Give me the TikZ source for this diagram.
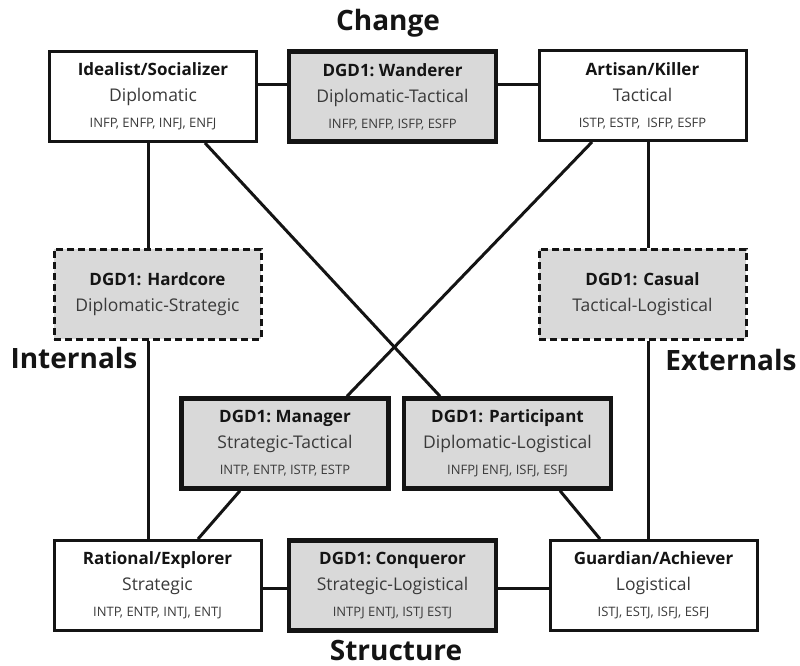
\documentclass[tikz,border=0pt]{standalone}
\usepackage{fontspec}
\setmainfont{Open Sans}
\usetikzlibrary{calc}
\definecolor{boxgray}{HTML}{D9D9D9}
\definecolor{txtgray}{HTML}{3A3A3A}
\definecolor{ink}{HTML}{141414}
\tikzset{
  basebox/.style={rectangle, minimum width=207pt, minimum height=90pt,
    align=center, inner sep=0pt, text=ink,
    font=\fontsize{17.5}{26}\selectfont},
  plainbox/.style={basebox, draw=ink, line width=3pt, fill=white},
  greybox/.style={basebox, draw=ink, line width=4.5pt, fill=boxgray},
  dashbox/.style={basebox, draw=ink, line width=3pt, fill=boxgray,
    dash pattern=on 7pt off 4pt},
  conn/.style={draw=ink, line width=3pt},
  axislabel/.style={font=\fontsize{28}{30}\selectfont\bfseries, text=ink, inner sep=0pt}
}
\newcommand{\ttl}[1]{{\fontsize{17}{26}\selectfont\bfseries #1}}
\newcommand{\sub}[1]{{\color{txtgray}#1}}
\newcommand{\mbti}[1]{{\fontsize{13}{14}\selectfont\color{txtgray}#1}}
\begin{document}
\begin{tikzpicture}[x=1pt, y=-1pt]
\useasboundingbox (0,0) rectangle (800,666);

% axis labels
\node[axislabel] (change) at (388,23) {Change};
\node[axislabel] (structure) at (396,650) {Structure};
\node[axislabel] (internals) at (74,358) {Internals};
\node[axislabel] (externals) at (731,360) {Externals};

% temperament boxes (corners)
\node[plainbox] (ideal) at (153,96.5) {\ttl{Idealist/Socializer}\\ \sub{Diplomatic}\\ \mbti{INFP, ENFP, INFJ, ENFJ}};
\node[plainbox] (art) at (642.5,95.5) {\ttl{Artisan/Killer}\\ \sub{Tactical}\\ \mbti{ISTP, ESTP,\ \ ISFP, ESFP}};
\node[plainbox] (rat) at (157.5,585.5) {\ttl{Rational/Explorer}\\ \sub{Strategic}\\ \mbti{INTP, ENTP, INTJ, ENTJ}};
\node[plainbox] (guard) at (653.5,585.5) {\ttl{Guardian/Achiever}\\ \sub{Logistical}\\ \mbti{ISTJ, ESTJ, ISFJ, ESFJ}};

% DGD1 types between them
\node[greybox] (wand) at (392.5,96.5) {\ttl{DGD1:\ Wanderer}\\ \sub{Diplomatic-Tactical}\\ \mbti{INFP, ENFP, ISFP, ESFP}};
\node[greybox] (conq) at (392.5,585.5) {\ttl{DGD1:\ Conqueror}\\ \sub{Strategic-Logistical}\\ \mbti{INTPJ ENTJ, ISTJ ESTJ}};
\node[greybox] (man) at (285,443.5) {\ttl{DGD1:\ Manager}\\ \sub{Strategic-Tactical}\\ \mbti{INTP, ENTP, ISTP, ESTP}};
\node[greybox] (part) at (507.5,443.5) {\ttl{DGD1: Participant}\\ \sub{Diplomatic-Logistical}\\ \mbti{INFPJ ENFJ, ISFJ, ESFJ}};
\node[dashbox] (hard) at (157.5,294) {\ttl{DGD1: Hardcore}\\ \sub{Diplomatic-Strategic}};
\node[dashbox] (cas) at (642.5,294) {\ttl{DGD1: Casual}\\ \sub{Tactical-Logistical}};

% guide coordinates for the straight connectors
\coordinate (lft) at (148,0);
\coordinate (rgt) at (648,0);
\coordinate (toprow) at (0,85);
\coordinate (botrow) at (0,588);

% horizontal connectors
\draw[conn] (ideal.east |- toprow) -- (wand.west |- toprow);
\draw[conn] (wand.east |- toprow) -- (art.west |- toprow);
\draw[conn] (rat.east |- botrow) -- (conq.west |- botrow);
\draw[conn] (conq.east |- botrow) -- (guard.west |- botrow);

% vertical connectors
\draw[conn] (ideal.south -| lft) -- (hard.north -| lft);
\draw[conn] (hard.south -| lft) -- (rat.north -| lft);
\draw[conn] (art.south -| rgt) -- (cas.north -| rgt);
\draw[conn] (cas.south -| rgt) -- (guard.north -| rgt);

% crossing diagonals
\draw[conn] ($(art.south)+(-50.5,0)$) -- ($(man.north)+(62,0)$);
\draw[conn] ($(man.south)+(-45,0)$) -- ($(rat.north)+(40.5,0)$);
\draw[conn] ($(ideal.south)+(52,0)$) -- ($(part.north)+(-67.5,0)$);
\draw[conn] ($(part.south)+(52.5,0)$) -- ($(guard.north)+(-53.5,0)$);
\end{tikzpicture}
\end{document}
